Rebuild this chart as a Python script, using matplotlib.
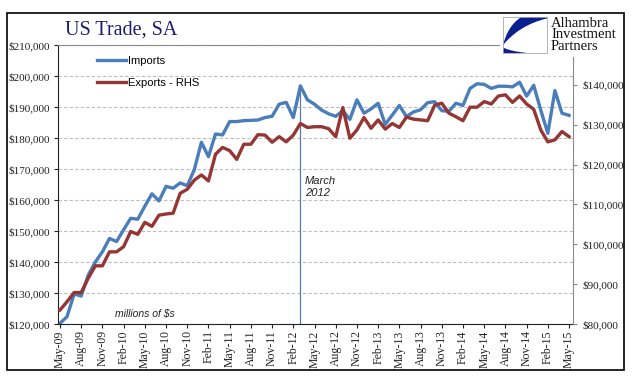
import numpy as np
import pandas as pd
import matplotlib
matplotlib.use("Agg")
import matplotlib.pyplot as plt
from matplotlib.patches import Rectangle, Polygon
from matplotlib.ticker import FuncFormatter

# monthly data, May-09 .. May-15 (millions of $)
months = pd.date_range("2009-05-01", periods=73, freq="MS").strftime("%b-%y").tolist()

imports = [120200, 122400, 129700, 129000, 135800, 140000, 143300, 147600, 146600, 150400,
           154100, 153800, 158000, 162000, 159700, 164400, 163800, 165500, 164600, 169800,
           178600, 174000, 181300, 181000, 185300, 185300, 185600, 185700, 185800, 186600,
           187000, 190900, 191500, 186600, 196800, 192300, 190900, 189000, 187800, 187000,
           188800, 186000, 192300, 188000, 189400, 191200, 184400, 187400, 190500, 186900,
           188400, 189100, 191400, 191700, 188800, 188600, 191200, 190500, 196000, 197500,
           197300, 196000, 196700, 196700, 196500, 198000, 193500, 197000, 189000, 181500,
           195300, 188000, 187300]

exports = [83500, 85600, 87900, 87900, 91500, 94600, 94600, 98100, 98100, 99400,
           103200, 102500, 105500, 104500, 107300, 107600, 107800, 112800, 113800, 116100,
           117400, 115900, 122600, 124300, 123500, 121300, 125100, 125100, 127500, 127400,
           125600, 127000, 125700, 127400, 130300, 129300, 129500, 129500, 129000, 127000,
           134300, 126600, 128700, 131800, 129100, 131200, 128900, 130300, 129300, 131900,
           131400, 131200, 131000, 134900, 135400, 132900, 132000, 131000, 134400, 134400,
           135800, 135200, 137200, 137500, 135600, 137200, 135200, 133900, 128700, 125700,
           126200, 128300, 127000]

left_ticks = list(range(120000, 210001, 10000))
right_ticks = list(range(80000, 140001, 10000))
marker_month = "Mar-12"

W, H = 641, 381
SERIF = "Liberation Serif"
SANS = "Liberation Sans"


def fx(px):
    return px / W


def fy(py):
    return 1 - py / H


fig = plt.figure(figsize=(W / 100, H / 100), dpi=100)
ax = fig.add_axes([fx(58), fy(324), (573 - 58) / W, (324 - 45) / H])
ax2 = ax.twinx()

x = np.arange(len(months))
l1, = ax.plot(x, imports, color="#4A7EBB", lw=2.4, solid_joinstyle="round")
l2, = ax2.plot(x, exports, color="#943634", lw=2.4, solid_joinstyle="round")

# vertical marker at March 2012
mi = months.index(marker_month)
ax.vlines(mi, left_ticks[0], imports[mi], color="#5A7EA0", lw=0.9)
ax.text(mi + 0.6, 167800, "March\n2012", fontsize=8, style="italic", family=SANS,
        color="#222222", va="top", linespacing=1.3)
ax.text(7.8, 121700, "millions of $s", fontsize=7.5, style="italic", family=SANS,
        color="#222222", va="bottom")

# axes ranges and ticks
ax.set_xlim(-0.28, 72.56)
ax.set_ylim(120000, 210000)
ax2.set_ylim(80000, 150000)
ax.set_yticks(left_ticks)
ax2.set_yticks(right_ticks)
money = FuncFormatter(lambda v, p: f"${v:,.0f}")
ax.yaxis.set_major_formatter(money)
ax2.yaxis.set_major_formatter(money)
ax.set_xticks(x[::3])
ax.set_xticklabels(months[::3], rotation=90, family=SERIF, fontsize=8.5)

for a in (ax, ax2):
    for lab in a.get_yticklabels():
        lab.set_family(SERIF)
        lab.set_fontsize(8)
ax.tick_params(axis="y", direction="out", length=3, pad=3, colors="#222222")
ax2.tick_params(axis="y", direction="out", length=3, pad=3.5, colors="#222222")
ax.tick_params(axis="x", direction="out", length=3, pad=1.5, colors="#222222")
ax2.tick_params(axis="y", color="#888888")

ax.yaxis.grid(True, linestyle=(0, (3, 2)), color="#BDBDBD", lw=0.8)
ax.set_axisbelow(True)

ax.spines["left"].set_color("#222222")
ax.spines["bottom"].set_color("#222222")
ax.spines["top"].set_color("#8A8A8A")
ax2.spines["right"].set_color("#8A8A8A")
ax2.spines["top"].set_visible(False)
ax2.spines["left"].set_visible(False)
ax2.spines["bottom"].set_visible(False)
ax.spines["right"].set_visible(False)

ax.legend([l1, l2], ["Imports", "Exports - RHS"], loc="upper left",
          bbox_to_anchor=(fx(97), fy(56)), bbox_transform=fig.transFigure,
          frameon=False, prop={"family": SANS, "size": 8}, handlelength=2.6,
          handletextpad=0.2, labelspacing=1.05, borderpad=0, borderaxespad=0)

# title
fig.text(fx(65), fy(30), "US Trade, SA", family=SERIF, fontsize=14.5,
         color="#1C1C6E", va="center", ha="left")

# logo area covering the top right corner
fig.add_artist(Rectangle((fx(500), fy(57)), 123 / W, (57 - 14) / H, facecolor="white",
                         edgecolor="none", transform=fig.transFigure, zorder=2))
logo = fig.add_axes([fx(503), fy(53), 44 / W, 36 / H])
logo.set_zorder(5)
logo.set_xlim(0, 1)
logo.set_ylim(0, 1)
logo.set_xticks([])
logo.set_yticks([])
for s in logo.spines.values():
    s.set_color("#A8A8A8")
    s.set_linewidth(0.6)


def bezier(p0, c, p1, n=20):
    t = np.linspace(0, 1, n)[:, None]
    return (1 - t) ** 2 * np.array(p0) + 2 * (1 - t) * t * np.array(c) + t ** 2 * np.array(p1)


upper = np.vstack([[(0.42, 1.0), (1.0, 1.0)],
                   bezier((1.0, 0.96), (0.38, 0.78), (0.0, 0.22)),
                   bezier((0.0, 0.22), (0.12, 0.78), (0.42, 1.0))])
lower = np.vstack([[(0.0, 0.0), (0.55, 0.0)],
                   bezier((0.55, 0.0), (0.12, 0.06), (0.0, 0.16))])
logo.add_patch(Polygon(upper, closed=True, facecolor="#0B1F8F", edgecolor="none"))
logo.add_patch(Polygon(lower, closed=True, facecolor="#0B1F8F", edgecolor="none"))

fig.text(fx(551), fy(35), "Alhambra\nInvestment\nPartners", family=SERIF, fontsize=10.5,
         color="#111111", va="center", ha="left", linespacing=0.85, zorder=6)

# outer frame
fig.add_artist(Rectangle((fx(7), fy(370)), (624 - 7) / W, (370 - 13) / H, fill=False,
                         edgecolor="black", lw=1.2, transform=fig.transFigure, zorder=7))

fig.savefig("out.png", dpi=100)
